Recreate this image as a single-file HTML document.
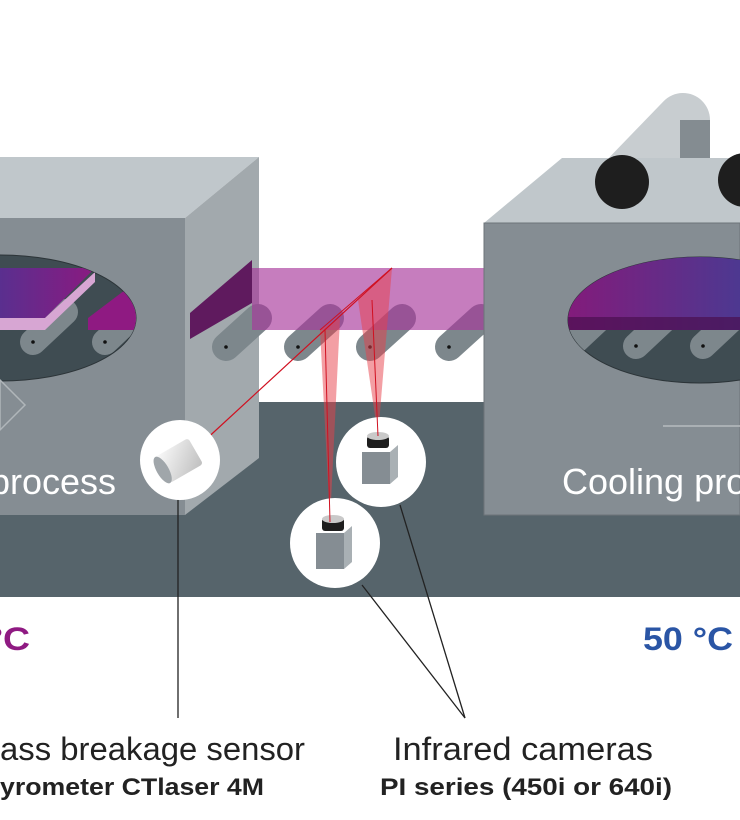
<!DOCTYPE html>
<html><head><style>html,body{margin:0;padding:0;background:#fff;}svg{display:block}</style></head>
<body>
<svg width="740" height="820" viewBox="0 0 740 820" xmlns="http://www.w3.org/2000/svg" font-family="Liberation Sans, Arial, sans-serif">
<defs>
<linearGradient id="pl" x1="0" x2="1"><stop offset="0" stop-color="#5a2f8f"/><stop offset="1" stop-color="#8a1a80"/></linearGradient>
<linearGradient id="pr" x1="0" x2="1"><stop offset="0" stop-color="#851a7a"/><stop offset="1" stop-color="#4a3a92"/></linearGradient>
<linearGradient id="cyl" x1="0" y1="0" x2="1" y2="1"><stop offset="0" stop-color="#e4e6e8"/><stop offset="1" stop-color="#8d9499"/></linearGradient>
<linearGradient id="py" x1="0" y1="0" x2="1" y2="1"><stop offset="0" stop-color="#fafafa"/><stop offset="1" stop-color="#bfbfbf"/></linearGradient>
<clipPath id="er"><ellipse cx="700" cy="320" rx="132" ry="63"/></clipPath>
<clipPath id="el"><ellipse cx="0" cy="318" rx="136" ry="63"/></clipPath>
</defs>
<rect x="0" y="402" width="740" height="195" fill="#56646b"/>
<!-- left box -->
<polygon points="0,157 259,157 185,218 0,218" fill="#c0c7cb"/>
<polygon points="185,218 259,157 259,458 185,515" fill="#a2a9ad"/>
<rect x="0" y="218" width="185" height="297" fill="#858d93"/>
<ellipse cx="0" cy="318" rx="136" ry="63" fill="#3f4c52" stroke="#2c3438"/>
<g clip-path="url(#el)">
<g stroke="#7d878c" stroke-width="26" stroke-linecap="round"><line x1="33" y1="342" x2="65" y2="312"/><line x1="105" y1="342" x2="137" y2="312"/></g>
<polygon points="0,268 95,268 45,318 0,318" fill="url(#pl)"/>
<polygon points="45,318 95,272 95,282 45,330 0,330 0,318" fill="#d7a6d3"/>
<polygon points="88,318 125,290 140,300 140,330 88,330" fill="#8f1a82"/>
</g>
<circle cx="33" cy="342" r="1.8" fill="#111"/><circle cx="105" cy="342" r="1.8" fill="#111"/>
<polygon points="0,380 25,405 0,430" fill="none" stroke="#b0b6ba" stroke-width="1.5"/>
<text x="-10" y="494" font-size="36" fill="#fff">process</text>
<polygon points="190,313 252,260 252,303 190,339" fill="#5f1a5e"/>
<g stroke="#7d878c" stroke-width="28" stroke-linecap="round">
<line x1="226" y1="347" x2="258" y2="318"/><line x1="298" y1="347" x2="330" y2="318"/><line x1="370" y1="347" x2="402" y2="318"/><line x1="449" y1="347" x2="481" y2="318"/>
</g>
<g fill="#111"><circle cx="226" cy="347" r="1.8"/><circle cx="298" cy="347" r="1.8"/><circle cx="370" cy="347" r="1.8"/><circle cx="449" cy="347" r="1.8"/></g>
<rect x="252" y="268" width="232" height="62" fill="#a8379b" fill-opacity="0.65"/>
<polygon points="330,522 320,330 340,318" fill="#e8404a" fill-opacity="0.5"/>
<polygon points="378,436 358,300 392,268" fill="#e8404a" fill-opacity="0.5"/>
<line x1="202" y1="443" x2="392" y2="268" stroke="#d01020" stroke-width="1.2"/>
<line x1="320" y1="330" x2="392" y2="268" stroke="#d01020" stroke-width="1"/>
<!-- right box -->
<line x1="625" y1="180" x2="683" y2="120" stroke="#c8cdd0" stroke-width="54" stroke-linecap="round"/>
<rect x="680" y="120" width="30" height="40" fill="#848c91"/>
<polygon points="484,223 562,158 740,158 740,223" fill="#c0c7cb"/>
<rect x="484" y="223" width="256" height="292" fill="#858d93" stroke="#6d7479"/>
<circle cx="622" cy="182" r="27" fill="#1e1e1e"/>
<circle cx="745" cy="180" r="27" fill="#1e1e1e"/>
<ellipse cx="700" cy="320" rx="132" ry="63" fill="#3f4c52" stroke="#2c3438"/>
<g clip-path="url(#er)">
<g stroke="#7d878c" stroke-width="26" stroke-linecap="round"><line x1="570" y1="346" x2="602" y2="316"/><line x1="636" y1="346" x2="668" y2="316"/><line x1="703" y1="346" x2="735" y2="316"/></g>
<rect x="560" y="250" width="190" height="80" fill="url(#pr)"/>
<rect x="560" y="317" width="190" height="13" fill="#4a1050" fill-opacity="0.7"/>
</g>
<g fill="#111"><circle cx="636" cy="346" r="1.8"/><circle cx="703" cy="346" r="1.8"/></g>
<line x1="663" y1="426" x2="740" y2="426" stroke="#b7bcbf" stroke-width="1.5"/>
<text x="562" y="494" font-size="36" fill="#fff">Cooling pro</text>
<!-- circles -->
<circle cx="180" cy="460" r="40" fill="#fff"/>
<g transform="rotate(-30 180 460)"><rect x="160" y="445" width="38" height="30" rx="3" fill="url(#py)"/><ellipse cx="160" cy="460" rx="6" ry="15" fill="#a0a6aa"/></g>
<circle cx="381" cy="462" r="45" fill="#fff"/>
<rect x="362" y="452" width="28" height="32" fill="#858d93"/><polygon points="390,452 398,445 398,477 390,484" fill="#a9b0b4"/>
<rect x="367" y="436" width="22" height="12" rx="3" fill="#1e1e1e"/><ellipse cx="378" cy="436" rx="11" ry="4" fill="#c9c9c9"/>
<circle cx="335" cy="543" r="45" fill="#fff"/>
<rect x="316" y="533" width="28" height="36" fill="#858d93"/><polygon points="344,533 352,526 352,562 344,569" fill="#a9b0b4"/>
<rect x="322" y="518" width="22" height="13" rx="3" fill="#1e1e1e"/><ellipse cx="333" cy="519" rx="11" ry="4" fill="#c9c9c9"/>
<line x1="330" y1="522" x2="325" y2="330" stroke="#d01020" stroke-width="1"/>
<line x1="378" y1="436" x2="372" y2="300" stroke="#d01020" stroke-width="1"/>
<g stroke="#222" stroke-width="1.3" fill="none">
<line x1="178" y1="500" x2="178" y2="718"/><line x1="400" y1="505" x2="465" y2="718"/><line x1="362" y1="585" x2="465" y2="718"/>
</g>
<text x="-12" y="650" font-size="32" font-weight="bold" fill="#8f1a82" textLength="42" lengthAdjust="spacingAndGlyphs">°C</text>
<text x="643" y="650" font-size="32" font-weight="bold" fill="#2a55a5" textLength="90" lengthAdjust="spacingAndGlyphs">50 °C</text>
<text x="0" y="760" font-size="32" fill="#222" textLength="305" lengthAdjust="spacingAndGlyphs">ass breakage sensor</text>
<text x="0" y="795" font-size="24" font-weight="bold" fill="#222" textLength="264" lengthAdjust="spacingAndGlyphs">yrometer CTlaser 4M</text>
<text x="393" y="760" font-size="32" fill="#222" textLength="260" lengthAdjust="spacingAndGlyphs">Infrared cameras</text>
<text x="380" y="795" font-size="24" font-weight="bold" fill="#222" textLength="292" lengthAdjust="spacingAndGlyphs">PI series (450i or 640i)</text>
</svg>
</body></html>
